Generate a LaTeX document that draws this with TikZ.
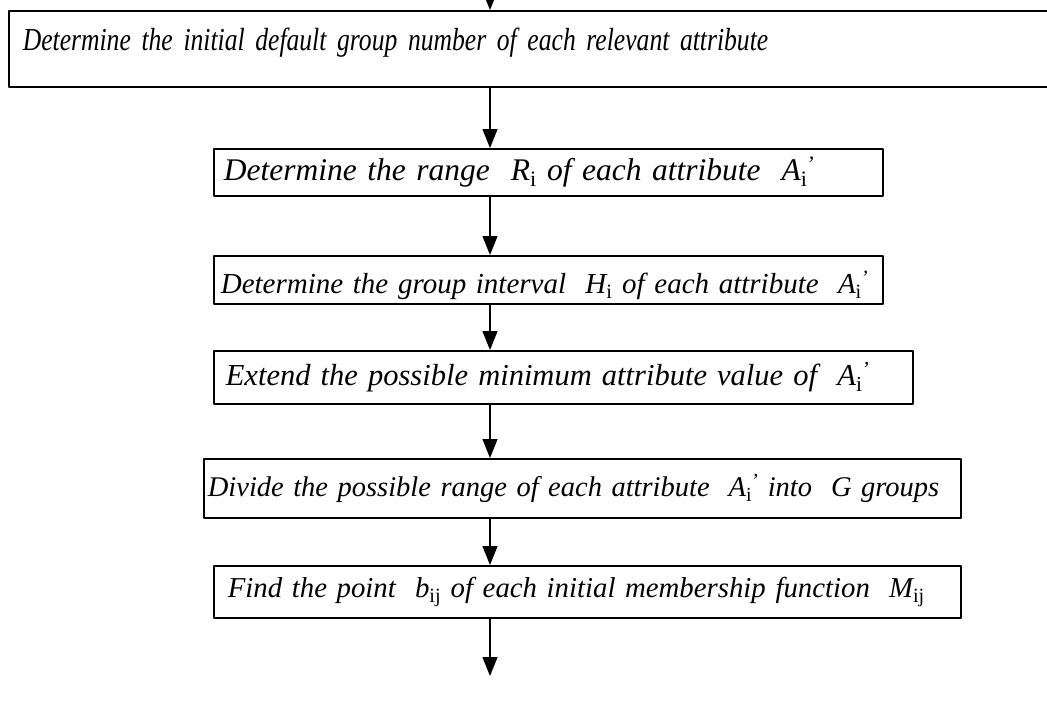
\documentclass[tikz,border=0pt]{standalone}
\usepackage{fontspec}
\setmainfont{Liberation Serif}
\newfontfamily\narrowfont[FakeStretch=0.8]{Liberation Serif}
\usetikzlibrary{arrows.meta}
\def\lineColor{black}
\newcommand{\subv}[2]{#1\textsubscript{\upshape #2}}
\newcommand{\subp}[2]{#1\textsubscript{\upshape #2}\kern-1pt\textsuperscript{'}}

\begin{document}
\begin{tikzpicture}[x=1pt, y=-1pt, line cap=round, line join=round,
	stepbox/.style={draw=\lineColor, line width=1.7pt, rectangle, anchor=north west, align=left},
	flow/.style={draw=\lineColor, fill=\lineColor, -{Triangle[length=19pt, width=15pt]}, line width=1.4pt}]
	\useasboundingbox (0,0) rectangle (1047,702);
	\pgfmathsetmacro{\arrowX}{490}
	\coordinate (entry) at (\arrowX,0);
	\coordinate (exit) at (\arrowX,676);
	% the steps: name/x/y/width/height/text inset/font size/text
	\foreach \name/\x/\y/\w/\h/\ins/\fs/\txt in {
		init/8/10/1060/76/14/32/{\narrowfont\raisebox{-2pt}[0pt][0pt]{Determine the initial default group number of each relevant attribute}},
		range/213/148/669/47/10/31.5/{Determine the range\ \ \subv{R}{i} of each attribute\ \ \subp{A}{i}},
		interval/213/255/669/48/7/29/{\raisebox{-14pt}[0pt][0pt]{Determine the group interval\ \ \subv{H}{i} of each attribute\ \ \subp{A}{i}}},
		extend/213/350/699/53/12/30.5/{Extend the possible minimum attribute value of\ \ \subp{A}{i}},
		divide/203/458/757/59/4/28.5/{Divide the possible range of each attribute\ \ \subp{A}{i}\ into\ \ G groups},
		point/213/565/747/52/14/28.8/{Find the point\ \ \subv{b}{ij} of each initial membership function\ \ \subv{M}{ij}}} {
		\pgfmathsetmacro{\tw}{\w - 2 * \ins}
		\node[stepbox, font=\fontsize{\fs}{\fs}\selectfont\itshape, inner xsep=\ins pt, inner ysep=0pt, text width=\tw pt, minimum height=\h pt] (\name) at (\x,\y) {\txt};
	}
	\draw[flow] (entry) -- (init.north -| entry);
	\foreach \from/\to in {init/range, range/interval, interval/extend, extend/divide, divide/point} {
		\draw[flow] (\from.south -| entry) -- (\to.north -| entry);
	}
	\draw[flow] (point.south -| entry) -- (exit);
\end{tikzpicture}
\end{document}
